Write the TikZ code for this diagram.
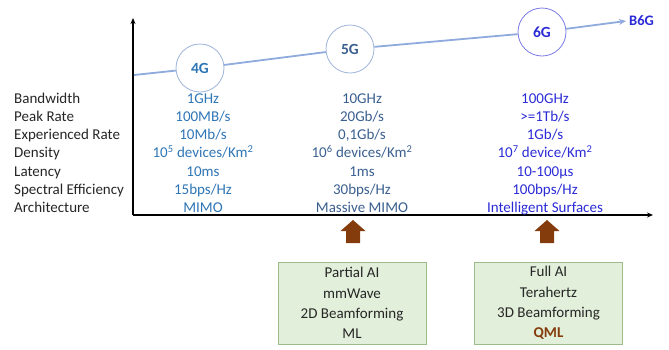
\documentclass[tikz,border=0pt]{standalone}
\usepackage{fontspec}
\setmainfont{Carlito}
\usetikzlibrary{arrows.meta}
\definecolor{lineblue}{HTML}{8FAADC}
\definecolor{circblue}{HTML}{9DB3D9}
\definecolor{circsix}{HTML}{7A7AE6}
\definecolor{col4}{HTML}{2E75B6}
\definecolor{col5}{HTML}{3A5F8F}
\definecolor{col6}{HTML}{2B2BD6}
\definecolor{lbl}{HTML}{262626}
\definecolor{arrbrown}{HTML}{843C0C}
\definecolor{boxfill}{HTML}{E2EFDA}
\definecolor{boxdraw}{HTML}{9DBB8A}
\begin{document}
\begin{tikzpicture}[x=1pt,y=-1pt,
  txt/.style={font=\fontsize{15}{17}\selectfont, inner sep=0pt, anchor=base},
  gen/.style={circle, draw=circblue, line width=0.8pt, minimum size=48pt, inner sep=0pt, font=\fontsize{15.5}{18}\selectfont\bfseries},
  axis/.style={line width=1.4pt, -{Stealth[length=6pt,width=5pt]}},
  trend/.style={lineblue, line width=1.8pt},
  tech/.style={draw=boxdraw, fill=boxfill, line width=0.8pt, minimum width=148pt, minimum height=82pt, align=center, inner sep=0pt, font=\fontsize{15}{20.3}\selectfont, text=lbl},
  uparr/.style={fill=arrbrown}
]
\useasboundingbox (0,0) rectangle (669,349);

% axes
\coordinate (origin) at (133,215);
\coordinate (ytop) at (133,18);
\coordinate (xend) at (653,215);
\draw[axis] (origin) -- (ytop);
\draw[axis] (origin) -- (xend);

% generations
\node[gen, text=col4] (g4) at (200,68) {4G};
\node[gen, text=col5] (g5) at (350,49) {5G};
\node[gen, draw=circsix, text=col6] (g6) at (542,32) {6G};
\coordinate (tstart) at (134,75);
\coordinate (tend) at (626,21);
\node[anchor=west, inner sep=0pt, font=\fontsize{14.5}{17}\selectfont\bfseries, text=col6] (b6g) at (629,21) {B6G};
\draw[trend] (tstart) -- (g4);
\draw[trend] (g4) -- (g5);
\draw[trend] (g5) -- (g6);
\draw[trend, -{Stealth[length=7pt,width=6pt]}] (g6) -- (tend);

% row labels
\foreach \i/\t in {0/{Bandwidth},1/{Peak Rate},2/{Experienced Rate},3/{Density},4/{Latency},5/{Spectral Efficiency},6/{Architecture}}{
  \node[txt, anchor=base west, text=lbl] (lab\i) at (14,103+18.3*\i) {\t};
}
% 4G column
\foreach \i/\t in {0/{1GHz},1/{100MB/s},2/{10Mb/s},3/{10\textsuperscript{5} devices/Km\textsuperscript{2}},4/{10ms},5/{15bps/Hz},6/{MIMO}}{
  \node[txt, text=col4] (c4r\i) at (203,103+18.3*\i) {\t};
}
% 5G column
\foreach \i/\t in {0/{10GHz},1/{20Gb/s},2/{0,1Gb/s},3/{10\textsuperscript{6} devices/Km\textsuperscript{2}},4/{1ms},5/{30bps/Hz},6/{Massive MIMO}}{
  \node[txt, text=col5] (c5r\i) at (362,103+18.3*\i) {\t};
}
% 6G column
\foreach \i/\t in {0/{100GHz},1/{>=1Tb/s},2/{1Gb/s},3/{10\textsuperscript{7} device/Km\textsuperscript{2}},4/{10-100µs},5/{100bps/Hz},6/{Intelligent Surfaces}}{
  \node[txt, text=col6] (c6r\i) at (545,103+18.3*\i) {\t};
}

% brown up arrows
\foreach \n/\x in {a5/353,a6/547}{
  \coordinate (\n) at (\x,220);
  \fill[uparr] (\n) -- ++(12.5,11) -- ++(-5.5,0) -- ++(0,12) -- ++(-14,0) -- ++(0,-12) -- ++(-5.5,0) -- cycle;
}

% technology boxes
\node[tech] (t5) at (352,303) {Partial AI\\mmWave\\2D Beamforming\\ML};
\node[tech] (t6) at (548.5,303) {Full AI\\Terahertz\\3D Beamforming\\\textcolor{arrbrown}{\bfseries QML}};
\end{tikzpicture}
\end{document}
